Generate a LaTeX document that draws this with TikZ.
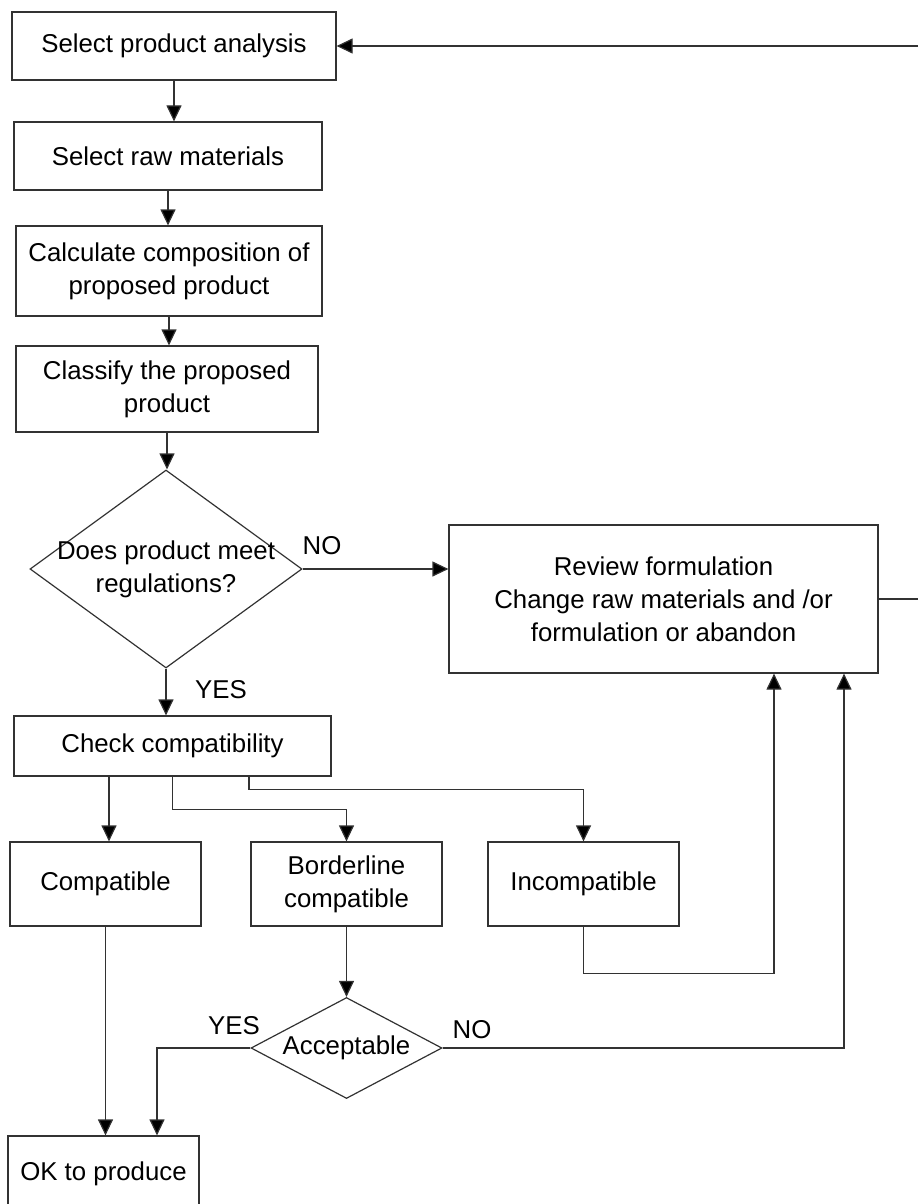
\documentclass[tikz,border=0pt]{standalone}
\usepackage{fontspec}
\setmainfont{Liberation Sans}
\usepackage{tikz}
\usetikzlibrary{positioning,arrows.meta,shapes.geometric}
\definecolor{edgecol}{RGB}{50,50,50}

\begin{document}
\begin{tikzpicture}[x=0.5pt, y=-0.5pt,
  box/.style={rectangle, draw=edgecol, line width=0.6pt, align=center,
              font=\fontsize{12.9}{16.5}\selectfont, inner sep=2pt},
  dec/.style={diamond, draw=edgecol, line width=0.6pt, inner sep=0pt},
  txt/.style={font=\fontsize{12.9}{16.5}\selectfont, align=center},
  ar/.style={-{Triangle[length=8pt, width=7.5pt, fill=black]}, line width=0.6pt, edgecol}
]
\useasboundingbox (0,0) rectangle (918,1204);
\clip (0,0) rectangle (918,1204);

\node[box, minimum width=162pt, minimum height=34pt] (sel) at (174,46) {Select product analysis};
\node[box, minimum width=154pt, minimum height=34pt] (raw) at (168,156) {Select raw materials};
\node[box, minimum width=153pt, minimum height=45pt] (calc) at (169,271) {Calculate composition of\\proposed product};
\node[box, minimum width=151pt, minimum height=43pt] (cls) at (167,389) {Classify the proposed\\product};
\node[dec, minimum width=136pt, minimum height=99pt,
      label={[txt]center:Does product meet\\regulations?}] (meet) at (166,569) {};
\node[box, minimum width=214.5pt, minimum height=74pt] (rev) at (663.5,599) {Review formulation\\Change raw materials and /or\\formulation or abandon};
\node[box, minimum width=158.5pt, minimum height=30pt] (chk) at (172.5,746) {Check compatibility};
\node[box, minimum width=95.5pt, minimum height=42pt] (cmp) at (105.5,884) {Compatible};
\node[box, minimum width=95.5pt, minimum height=42pt] (bdl) at (346.5,884) {Borderline\\compatible};
\node[box, minimum width=95.5pt, minimum height=42pt] (inc) at (583.5,884) {Incompatible};
\node[dec, minimum width=95.5pt, minimum height=50.5pt,
      label={[txt]center:Acceptable}] (acc) at (346.5,1048) {};
\node[box, minimum width=95.5pt, minimum height=38pt] (ok) at (103.5,1174) {OK to produce};

\node[txt] (no1) at (322,546) {NO};
\node[txt] (yes1) at (221,690) {YES};
\node[txt] (yes2) at (234,1026) {YES};
\node[txt] (no2) at (472,1030) {NO};

\coordinate (rin) at (918,46);
\coordinate (rout) at (918,599);

\foreach \a/\b in {sel/raw,raw/calc,calc/cls,cls/meet,meet/chk}
  \draw[ar] (\a.south) -- (\a.south |- \b.north);

\draw[ar] (meet.east) -- (meet.east -| rev.west);
\draw[ar] ([xshift=-31.75pt]chk.south) -- ([xshift=1.75pt]cmp.north);
\draw[ar] (chk.south) -- ++(0,33) -| (bdl.north);
\draw[ar] ([xshift=38.25pt]chk.south) -- ++(0,13) -| (inc.north);
\draw[ar] (cmp.south) -- (cmp.south |- ok.north);
\draw[ar] (bdl.south) -- (acc.north);
\draw[ar] (acc.west) -| ([xshift=26.75pt]ok.north);
\draw[ar] (acc.east) -| ([xshift=90.25pt]rev.south);
\draw[ar] (inc.south) -- ++(0,47) -| ([xshift=55.25pt]rev.south);
\draw[line width=0.6pt, edgecol] (rev.east) -- (rout);
\draw[ar] (rin) -- (rin -| sel.east);

\end{tikzpicture}
\end{document}
